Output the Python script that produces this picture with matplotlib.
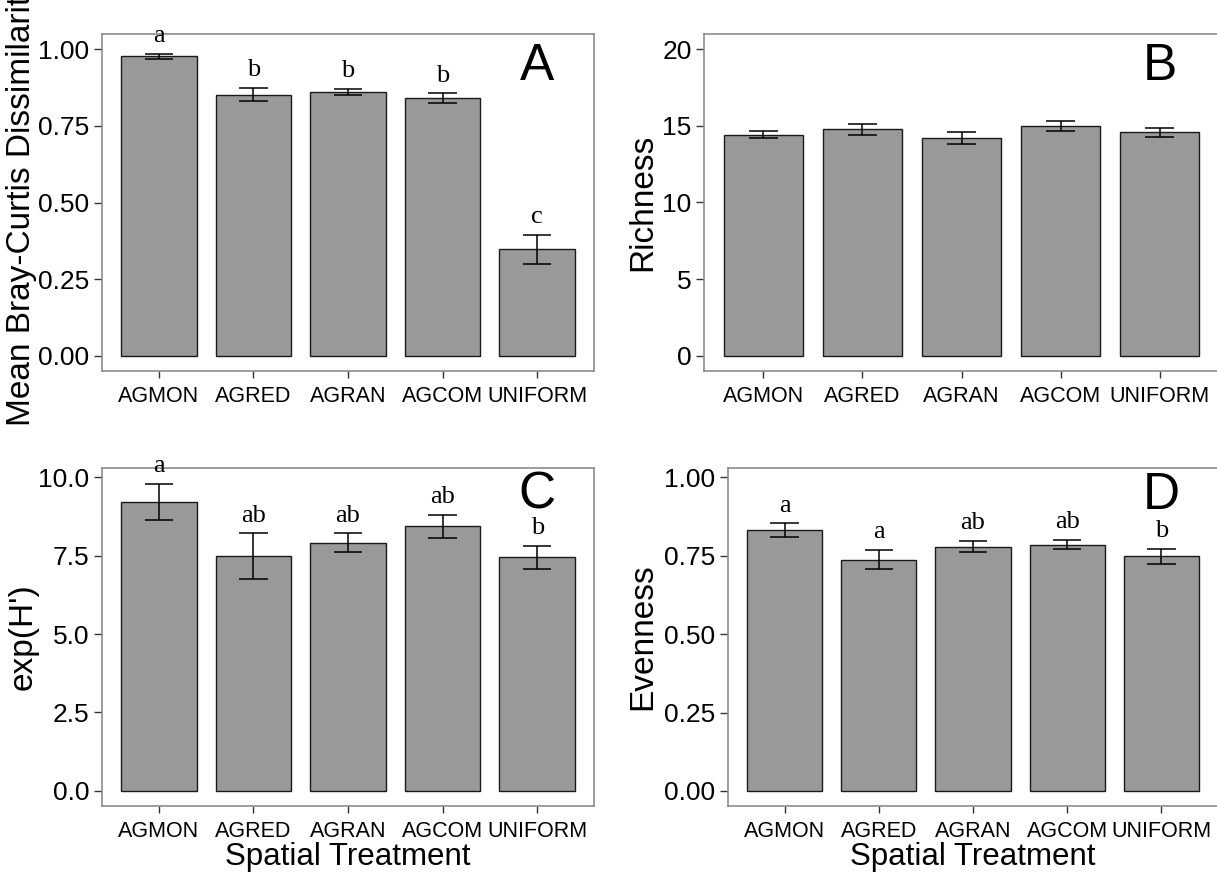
import matplotlib
matplotlib.use("Agg")
import matplotlib.pyplot as plt
from matplotlib.ticker import FormatStrFormatter

plt.rcParams["font.family"] = ["Liberation Sans", "DejaVu Sans"]

treatments = ["AGMON", "AGRED", "AGRAN", "AGCOM", "UNIFORM"]

# mean +/- SE per spatial treatment
bray_mean = [0.977, 0.852, 0.860, 0.841, 0.348]
bray_se = [0.008, 0.022, 0.010, 0.015, 0.047]
bray_letters = ["a", "b", "b", "b", "c"]

rich_mean = [14.41, 14.78, 14.20, 15.00, 14.57]
rich_se = [0.23, 0.37, 0.38, 0.30, 0.27]

exph_mean = [9.22, 7.48, 7.92, 8.44, 7.45]
exph_se = [0.57, 0.73, 0.29, 0.37, 0.36]
exph_letters = ["a", "ab", "ab", "ab", "b"]

even_mean = [0.831, 0.738, 0.779, 0.786, 0.749]
even_se = [0.022, 0.031, 0.017, 0.015, 0.024]
even_letters = ["a", "a", "ab", "ab", "b"]

W, H = 1217, 874
fig = plt.figure(figsize=(W / 100, H / 100), dpi=100)
fig.patch.set_facecolor("white")


def px_axes(left, top, right, bottom):
    return fig.add_axes([left / W, 1 - bottom / H, (right - left) / W, (bottom - top) / H])


def panel(ax, means, ses, letters, tag, ylabel, ylim, yticks, fmt, label_x, xlabel=None):
    xs = list(range(1, len(treatments) + 1))
    ax.bar(xs, means, width=0.8, color="#999999", edgecolor="#1a1a1a", linewidth=1.0, zorder=2)
    lo = [m - s for m, s in zip(means, ses)]
    hi = [m + s for m, s in zip(means, ses)]
    ax.vlines(xs, lo, hi, color="black", linewidth=1.1, zorder=3)
    ax.hlines(lo, [x - 0.15 for x in xs], [x + 0.15 for x in xs], color="black", linewidth=1.1, zorder=3)
    ax.hlines(hi, [x - 0.15 for x in xs], [x + 0.15 for x in xs], color="black", linewidth=1.1, zorder=3)
    if letters:
        for x, top, lab in zip(xs, hi, letters):
            ax.annotate(lab, (x, top), xytext=(0, 5), textcoords="offset points",
                        ha="center", va="bottom", fontsize=19, family="Liberation Serif")
    ax.text(5, yticks[-1] * 0.943, tag, ha="center", va="center", fontsize=37)
    ax.set_xlim(0.4, 5.6)
    ax.set_ylim(*ylim)
    ax.set_xticks(xs)
    ax.set_xticklabels(treatments, fontsize=15.5)
    ax.set_yticks(yticks)
    ax.yaxis.set_major_formatter(FormatStrFormatter(fmt))
    ax.tick_params(axis="y", labelsize=19, length=6, width=1, pad=3, color="#333333")
    ax.tick_params(axis="x", length=5, width=1, pad=6, color="#333333")
    for sp in ax.spines.values():
        sp.set_color("#8c8c8c")
        sp.set_linewidth(1.2)
    ax.set_ylabel(ylabel, fontsize=24)
    ax.yaxis.set_label_coords(label_x, 0.5)
    if xlabel:
        ax.set_xlabel(xlabel, fontsize=22.5, labelpad=0)


ax_a = px_axes(102, 34, 594, 371)
panel(ax_a, bray_mean, bray_se, bray_letters, "A", "Mean Bray-Curtis Dissimilarity",
      (-0.049, 1.05), [0, 0.25, 0.5, 0.75, 1.0], "%.2f", -0.132)

ax_b = px_axes(704, 34, 1219, 371)
panel(ax_b, rich_mean, rich_se, None, "B", "Richness",
      (-1.0, 21.0), [0, 5, 10, 15, 20], "%d", -0.089)

ax_c = px_axes(102, 468, 594, 806)
panel(ax_c, exph_mean, exph_se, exph_letters, "C", "exp(H')",
      (-0.49, 10.3), [0, 2.5, 5.0, 7.5, 10.0], "%.1f", -0.128, xlabel="Spatial Treatment")

ax_d = px_axes(728, 468, 1218, 806)
panel(ax_d, even_mean, even_se, even_letters, "D", "Evenness",
      (-0.048, 1.03), [0, 0.25, 0.5, 0.75, 1.0], "%.2f", -0.143, xlabel="Spatial Treatment")

fig.savefig("out.png", dpi=100)
